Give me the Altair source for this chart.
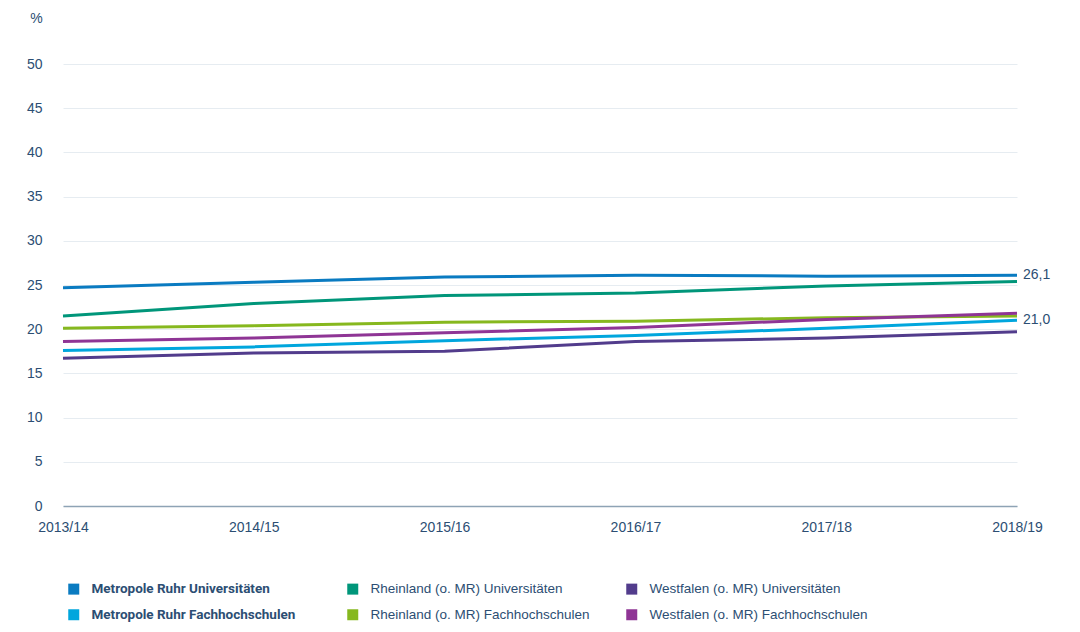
import altair as alt
import pandas as pd

years = ["2013/14", "2014/15", "2015/16", "2016/17", "2017/18", "2018/19"]
series_names = [
    "Metropole Ruhr Universitäten",
    "Metropole Ruhr Fachhochschulen",
    "Rheinland (o. MR) Universitäten",
    "Rheinland (o. MR) Fachhochschulen",
    "Westfalen (o. MR) Universitäten",
    "Westfalen (o. MR) Fachhochschulen",
]
colors = ["#0a7bc1", "#00a6dd", "#00967a", "#86b81f", "#523c8c", "#8f3595"]

mr_uni = [24.7, 25.3, 25.9, 26.1, 26.0, 26.1]
mr_fh = [17.6, 18.0, 18.7, 19.3, 20.1, 21.0]
rl_uni = [21.5, 22.9, 23.8, 24.1, 24.9, 25.4]
rl_fh = [20.1, 20.4, 20.8, 20.9, 21.3, 21.5]
wf_uni = [16.7, 17.3, 17.5, 18.6, 19.0, 19.7]
wf_fh = [18.6, 19.0, 19.6, 20.2, 21.1, 21.8]
all_values = [mr_uni, mr_fh, rl_uni, rl_fh, wf_uni, wf_fh]

labelled = ["Metropole Ruhr Universitäten", "Metropole Ruhr Fachhochschulen"]

rows = []
for name, vals in zip(series_names, all_values):
    for y, v in zip(years, vals):
        rows.append({"Jahr": y, "Serie": name, "Wert": v})
df = pd.DataFrame(rows)

text_color = "#2c4e73"
is_mr = "indexof(datum.label, 'Metropole') >= 0"

color_scale = alt.Scale(domain=series_names, range=colors)

legend = alt.Legend(
    title=None,
    orient="none",
    legendX=4,
    legendY=518,
    columns=3,
    gridAlign="all",
    columnPadding=35,
    rowPadding=11,
    symbolType="square",
    symbolSize=121,
    symbolStrokeWidth=0,
    labelOffset=11,
    labelLimit=400,
    labelFontSize=13.5,
    labelColor=text_color,
    labelFont={"expr": f"{is_mr} ? 'Roboto' : 'Liberation Sans'"},
    labelFontWeight={"expr": f"{is_mr} ? 'bold' : 'normal'"},
)

base = alt.Chart(df)

x_enc = alt.X(
    "Jahr:O",
    sort=years,
    scale=alt.Scale(type="point", padding=0),
    axis=alt.Axis(
        title=None,
        labelAngle=0,
        labelPadding=14,
        ticks=False,
        grid=False,
        domain=True,
        domainColor="#8ea3b5",
        domainWidth=1.5,
        labelFontSize=14,
        labelColor=text_color,
        labelFont="Liberation Sans",
    ),
)
y_enc = alt.Y(
    "Wert:Q",
    scale=alt.Scale(domain=[0, 50], nice=False),
    axis=alt.Axis(
        title="%",
        titleAngle=0,
        titleAlign="center",
        titleBaseline="middle",
        titleX=-27,
        titleY=-46,
        titleFontSize=14,
        titleFontWeight="normal",
        titleColor=text_color,
        titleFont="Liberation Sans",
        values=list(range(0, 51, 5)),
        ticks=False,
        domain=False,
        labelPadding=21,
        labelFontSize=14,
        labelColor=text_color,
        labelFont="Liberation Sans",
        gridColor="#e6ecf1",
        gridWidth=1,
    ),
)

# empty point layer: only supplies filled square legend symbols
legend_layer = (
    base.transform_filter(alt.datum.Wert < -1000)
    .mark_point(shape="square", filled=True, opacity=1)
    .encode(x=x_enc, y=y_enc, color=alt.Color("Serie:N", scale=color_scale, sort=series_names, legend=legend))
)

lines = base.mark_line(strokeWidth=3).encode(
    x=x_enc,
    y=y_enc,
    color=alt.Color("Serie:N", scale=color_scale, sort=series_names, legend=legend),
)

end_labels = (
    base.transform_filter(alt.datum.Jahr == years[-1])
    .transform_filter(alt.FieldOneOfPredicate(field="Serie", oneOf=labelled))
    .transform_calculate(Label="replace(format(datum.Wert, '.1f'), '.', ',')")
    .mark_text(align="left", baseline="middle", dx=6, fontSize=14, color=text_color, font="Liberation Sans")
    .encode(
        x=alt.X("Jahr:O", sort=years),
        y=alt.Y("Wert:Q"),
        text="Label:N",
    )
)

chart = (
    alt.layer(legend_layer, lines, end_labels)
    .properties(
        width=954,
        height=442,
        autosize=alt.AutoSizeParams(type="none"),
        padding={"left": 55, "top": 56, "right": 55, "bottom": 120},
    )
    .configure(background="white", view=alt.ViewConfig(stroke="transparent", strokeWidth=0))
)

chart.save("out.html", embed_options={"renderer": "svg", "actions": False})
